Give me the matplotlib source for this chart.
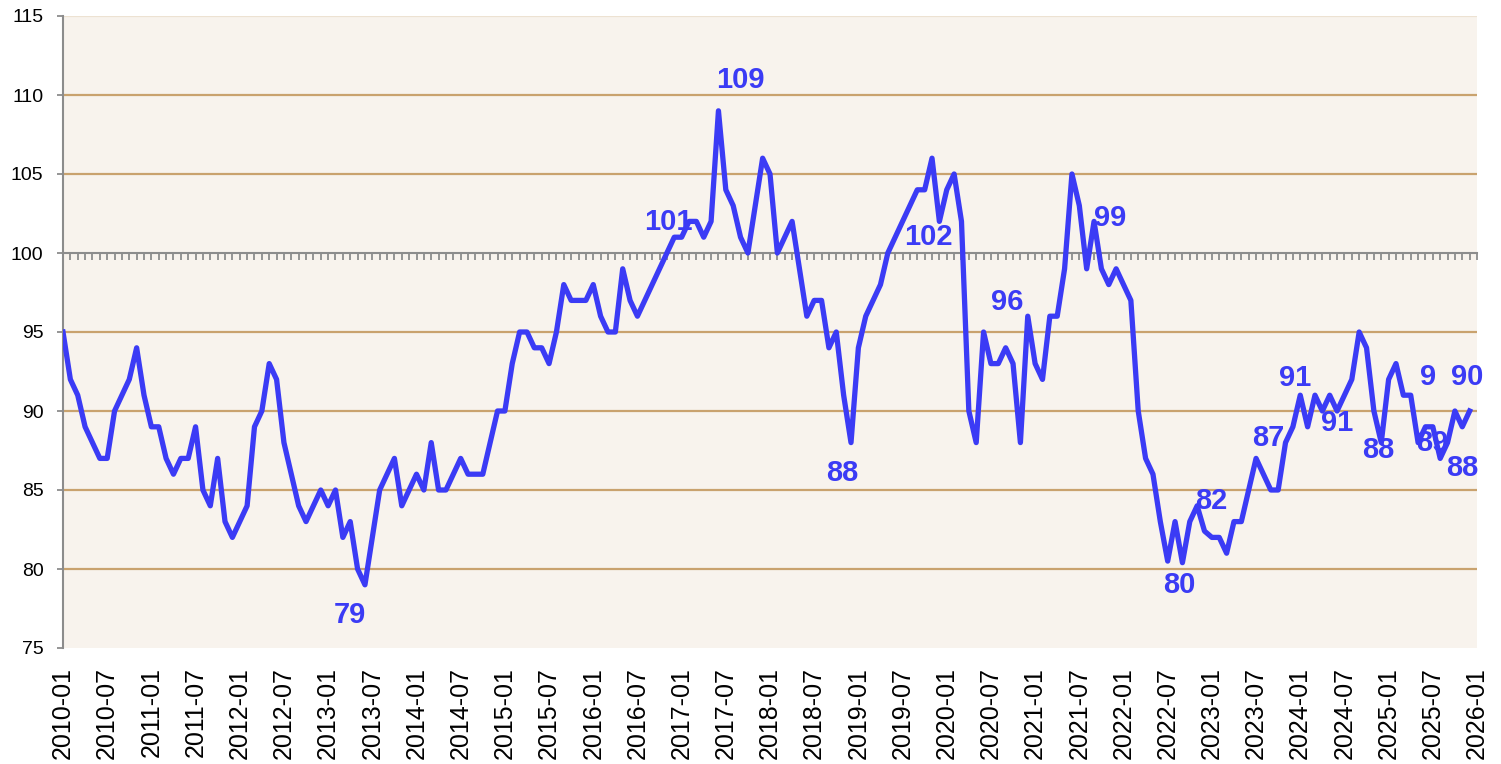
import numpy as np
import matplotlib
matplotlib.use('Agg')
import matplotlib.pyplot as plt

plt.rcParams['font.family'] = ['Liberation Sans', 'DejaVu Sans']

# monthly index, 2010-01 .. 2025-12
values = [
    95, 92, 91, 89, 88, 87, 87, 90, 91, 92, 94, 91,          # 2010
    89, 89, 87, 86, 87, 87, 89, 85, 84, 87, 83, 82,          # 2011
    83, 84, 89, 90, 93, 92, 88, 86, 84, 83, 84, 85,          # 2012
    84, 85, 82, 83, 80, 79, 82, 85, 86, 87, 84, 85,          # 2013
    86, 85, 88, 85, 85, 86, 87, 86, 86, 86, 88, 90,          # 2014
    90, 93, 95, 95, 94, 94, 93, 95, 98, 97, 97, 97,          # 2015
    98, 96, 95, 95, 99, 97, 96, 97, 98, 99, 100, 101,        # 2016
    101, 102, 102, 101, 102, 109, 104, 103, 101, 100, 103, 106,  # 2017
    105, 100, 101, 102, 99, 96, 97, 97, 94, 95, 91, 88,      # 2018
    94, 96, 97, 98, 100, 101, 102, 103, 104, 104, 106, 102,  # 2019
    104, 105, 102, 90, 88, 95, 93, 93, 94, 93, 88, 96,       # 2020
    93, 92, 96, 96, 99, 105, 103, 99, 102, 99, 98, 99,       # 2021
    98, 97, 90, 87, 86, 83, 80.5, 83, 80.4, 83, 84, 82.4,    # 2022
    82, 82, 81, 83, 83, 85, 87, 86, 85, 85, 88, 89,          # 2023
    91, 89, 91, 90, 91, 90, 91, 92, 95, 94, 90, 88,          # 2024
    92, 93, 91, 91, 88, 89, 89, 87, 88, 90, 89, 90,          # 2025
]

tick_labels = [f'{y}-{m:02d}' for y in range(2010, 2027) for m in (1, 7)][:-1]

# data labels: (month index, text, dx pt, dy pt)
point_labels = [
    (89, '109', 15.5, 22),
    (83, '101', -4, 11),
    (41, '79', -11, -22),
    (107, '88', -6, -22),
    (119, '102', -8, -11.5),
    (131, '96', -15, 10),
    (141, '99', 6, 36.5),
    (152, '80', -2, -16),
    (155, '82', 5, 22),
    (162, '87', 8.5, 14.5),
    (168, '91', -3.5, 12.5),
    (172, '91', 5, -20),
    (179, '88', -2, -5),
    (186, '9', -3.5, 36),
    (187, '88', 16, -7),
    (191, '90', -1.5, 24.5),
]
hidden_labels = [(184, '89', 10, 0)]

grid_levels = [80, 85, 90, 95, 105, 110]

blue = '#3B3BF5'
gray = '#8C8C8C'

fig = plt.figure(figsize=(15.01, 7.64), dpi=100)
ax = fig.add_axes([63 / 1501, 1 - 648 / 764, (1477 - 63) / 1501, (648 - 16) / 764])
ax.set_facecolor('#F8F3ED')

x = np.arange(len(values))
ax.set_xlim(0, 192)
ax.set_ylim(75, 115)

ax.hlines(grid_levels, 0, 192, colors='#C9A26E', linewidth=1.6, zorder=1)
ax.hlines([115], 0, 192, colors='#EDE2D2', linewidth=1.6, zorder=1)

ax.plot(x, values, color=blue, linewidth=3.8, zorder=3, solid_joinstyle='round')

# category axis crossing at 100 with monthly ticks
ax.spines['bottom'].set_position(('data', 100))
ax.spines['bottom'].set_color(gray)
ax.spines['bottom'].set_linewidth(1.5)
ax.set_xticks(np.arange(0, 193))
ax.set_xticklabels([])
ax.tick_params(axis='x', direction='out', length=5, width=1.3, color=gray)

ax.spines['top'].set_visible(False)
ax.spines['right'].set_visible(False)
ax.spines['left'].set_color(gray)
ax.spines['left'].set_linewidth(1.5)

ax.set_yticks(np.arange(75, 116, 5))
ax.tick_params(axis='y', direction='out', length=4, width=1.3, color=gray,
               labelsize=14, pad=10)

sec = ax.secondary_xaxis(0.0)
sec.set_xticks(np.arange(0, 193, 6))
sec.set_xticklabels(tick_labels, rotation=90, fontsize=18)
sec.tick_params(length=0, pad=14)
sec.spines['bottom'].set_visible(False)

for i, txt, dx, dy in point_labels:
    ax.annotate(txt, (x[i], values[i]), xytext=(dx, dy), textcoords='offset points',
                ha='center', va='center', color=blue, fontsize=21, fontweight='bold',
                zorder=4, annotation_clip=False)
for i, txt, dx, dy in hidden_labels:
    ax.annotate(txt, (x[i], values[i]), xytext=(dx, dy), textcoords='offset points',
                ha='center', va='center', color=blue, fontsize=21, fontweight='bold',
                zorder=2, annotation_clip=False)

fig.savefig('out.png', dpi=100, facecolor='white')
